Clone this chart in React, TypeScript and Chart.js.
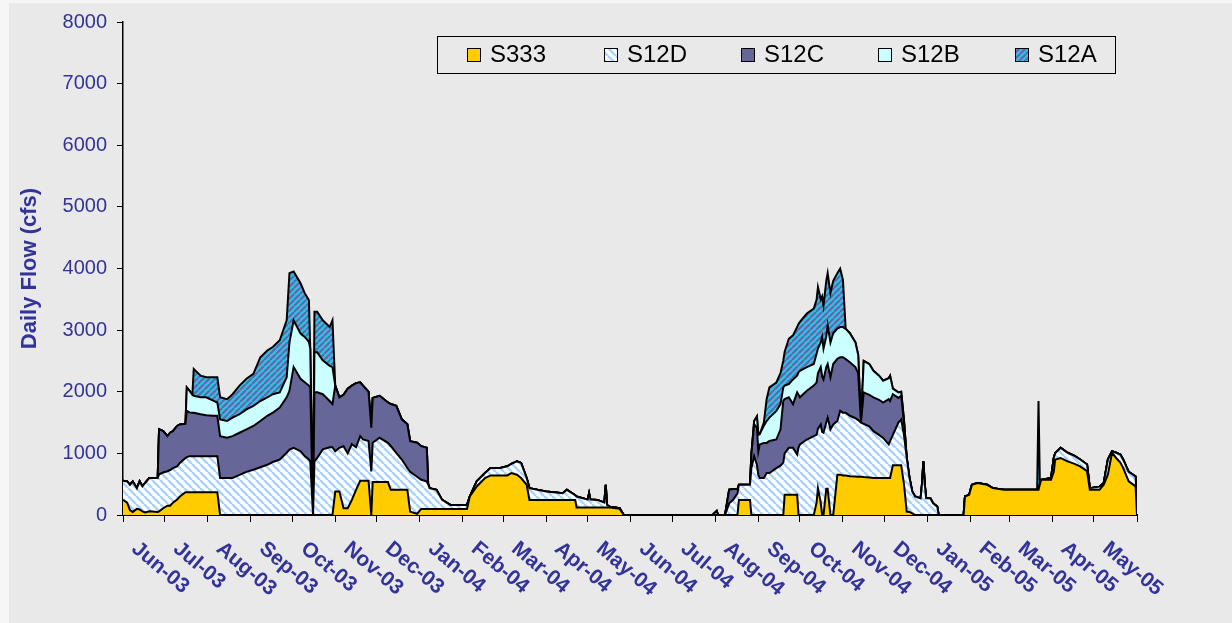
import React, { useEffect, useRef } from "react";
import { Chart, registerables } from "chart.js";

Chart.register(...registerables);

// day offsets from 1 Jun 2003
const days = [
  0, 3, 5, 7, 10, 12, 14, 16, 19, 25,
  26, 29, 32, 34, 36, 39, 41, 45, 46, 48,
  50, 51, 56, 60, 65, 68, 70, 75, 79, 84,
  89, 94, 99, 104, 108, 113, 118, 120, 123, 128,
  131, 134, 135, 137, 138, 140, 144, 149, 151, 153,
  156, 159, 162, 165, 168, 171, 173, 177, 179, 180,
  185, 191, 193, 197, 201, 205, 207, 212, 215, 219,
  220, 221, 226, 230, 236, 248, 250, 255, 261, 265,
  272, 277, 280, 284, 287, 291, 293, 305, 317, 320,
  326, 327, 335, 336, 337, 342, 347, 348, 349, 351,
  358, 361, 425, 428, 429, 434, 437, 440, 443, 444,
  452, 453, 455, 457, 458, 459, 462, 464, 466, 471,
  474, 476, 477, 480, 483, 486, 487, 488, 493, 498,
  500, 501, 503, 504, 505, 507, 508, 510, 512, 515,
  517, 519, 521, 524, 528, 530, 532, 534, 538, 541,
  545, 548, 552, 553, 555, 559, 561, 563, 565, 567,
  569, 571, 575, 576, 577, 578, 579, 582, 584, 587,
  588, 606, 607, 610, 612, 616, 623, 627, 635, 659,
  660, 661, 662, 669, 671, 672, 676, 681, 686, 690,
  695, 697, 704, 707, 710, 713, 716, 719, 721, 725,
  730, 731,
];

const s333 = [
  245, 200, 80, 50, 100, 90, 60, 40, 60, 50,
  60, 110, 150, 150, 200, 250, 300, 370, 370, 370,
  370, 370, 370, 370, 370, 370, 0, 0, 0, 0,
  0, 0, 0, 0, 0, 0, 0, 0, 0, 0,
  0, 0, 0, 0, 0, 0, 0, 0, 0, 381,
  381, 109, 109, 245, 409, 556, 556, 556, 0, 534,
  534, 534, 409, 409, 409, 409, 55, 20, 98, 98,
  98, 98, 98, 98, 98, 98, 300, 463, 600, 643,
  643, 643, 681, 654, 600, 490, 245, 245, 245, 245,
  245, 120, 120, 120, 120, 120, 120, 120, 120, 120,
  100, 0, 0, 0, 0, 0, 0, 0, 0, 245,
  245, 0, 0, 0, 0, 0, 0, 0, 0, 0,
  0, 0, 330, 330, 330, 330, 0, 0, 0, 0,
  200, 435, 200, 0, 0, 425, 425, 0, 0, 655,
  655, 640, 640, 630, 625, 620, 620, 615, 610, 600,
  600, 600, 600, 600, 807, 807, 807, 500, 55, 50,
  27, 0, 0, 0, 0, 0, 0, 0, 0, 0,
  0, 0, 300, 327, 490, 520, 490, 436, 410, 410,
  410, 500, 570, 570, 700, 900, 925, 870, 830, 790,
  710, 410, 410, 490, 655, 1010, 925, 850, 765, 545,
  465, 0,
];

const s12d = [
  310, 345, 410, 495, 335, 455, 405, 480, 540, 550,
  600, 580, 560, 580, 560, 540, 545, 555, 570, 585,
  585, 585, 585, 585, 585, 585, 600, 600, 600, 650,
  700, 735, 775, 815, 860, 900, 1010, 1060, 1090, 1035,
  955, 900, 870, 0, 870, 925, 1065, 1100, 1100, 654,
  709, 1008, 891, 905, 691, 724, 670, 644, 708, 638,
  719, 638, 711, 599, 491, 354, 645, 600, 474, 447,
  402, 338, 311, 147, 66, 66, 0, 82, 81, 120,
  120, 147, 149, 218, 245, 110, 191, 136, 109, 164,
  75, 180, 130, 234, 130, 125, 80, 370, 40, 16,
  9, 0, 0, 65, 0, 0, 190, 250, 350, 245,
  245, 760, 955, 815, 650, 600, 600, 680, 680, 760,
  800, 850, 670, 760, 760, 650, 1100, 1145, 1225, 1280,
  1100, 965, 1270, 1350, 1335, 1075, 1155, 1390, 1470, 870,
  1035, 1020, 1020, 980, 945, 920, 880, 865, 830, 760,
  700, 650, 545, 600, 493, 693, 743, 800, 870, 550,
  353, 300, 270, 500, 870, 500, 270, 270, 190, 136,
  0, 0, 0, 0, 0, 0, 0, 0, 0, 0,
  0, 0, 0, 30, 225, 100, 165, 140, 130, 110,
  110, 25, 50, 30, 245, 25, 85, 130, 135, 155,
  160, 0,
];

const s12c = [
  0, 0, 0, 0, 0, 0, 0, 0, 0, 0,
  730, 670, 570, 605, 600, 655, 625, 555, 750, 710,
  705, 705, 680, 665, 655, 655, 680, 655, 680, 685,
  690, 710, 750, 795, 800, 845, 900, 955, 1310, 1175,
  1200, 1200, 1200, 0, 1120, 1065, 895, 750, 700, 1065,
  818, 833, 1050, 950, 1040, 873, 874, 800, 709, 728,
  682, 654, 680, 763, 653, 708, 499, 552, 545, 545,
  0, 0, 0, 0, 0, 0, 0, 0, 0, 0,
  0, 0, 0, 0, 0, 0, 0, 0, 0, 0,
  0, 0, 0, 0, 0, 0, 0, 0, 0, 0,
  0, 0, 0, 0, 0, 0, 220, 170, 70, 0,
  0, 220, 515, 605, 380, 545, 570, 490, 520, 465,
  590, 1000, 880, 820, 710, 1010, 850, 765, 790, 820,
  850, 900, 930, 900, 865, 900, 870, 845, 980, 1010,
  870, 900, 870, 870, 830, 760, 0, 510, 510, 550,
  570, 575, 735, 650, 660, 400, 390, 200, 0, 0,
  0, 0, 0, 0, 0, 0, 0, 0, 0, 0,
  0, 0, 0, 0, 0, 0, 0, 0, 0, 0,
  0, 0, 0, 0, 0, 0, 0, 0, 0, 0,
  0, 0, 0, 0, 0, 0, 0, 0, 0, 0,
  0, 0,
];

const s12b = [
  0, 0, 0, 0, 0, 0, 0, 0, 0, 0,
  0, 0, 0, 0, 0, 0, 0, 0, 380, 350,
  290, 275, 275, 290, 245, 215, 270, 270, 300, 300,
  325, 325, 325, 300, 300, 245, 325, 785, 760, 735,
  735, 710, 630, 0, 650, 650, 550, 570, 600, 0,
  0, 0, 0, 0, 0, 0, 0, 0, 0, 0,
  0, 0, 0, 0, 0, 0, 0, 0, 0, 0,
  0, 0, 0, 0, 0, 0, 0, 0, 0, 0,
  0, 0, 0, 0, 0, 0, 0, 0, 0, 0,
  0, 0, 0, 0, 0, 0, 0, 0, 0, 0,
  0, 0, 0, 0, 0, 0, 0, 0, 0, 0,
  0, 0, 55, 180, 270, 165, 280, 355, 380, 465,
  410, 220, 220, 215, 400, 270, 365, 430, 385, 350,
  465, 400, 400, 640, 500, 500, 630, 565, 500, 490,
  490, 490, 490, 470, 400, 300, 0, 510, 500, 430,
  390, 355, 340, 410, 90, 90, 60, 50, 0, 0,
  0, 0, 0, 0, 0, 0, 0, 0, 0, 0,
  0, 0, 0, 0, 0, 0, 0, 0, 0, 0,
  0, 0, 0, 0, 0, 0, 0, 0, 0, 0,
  0, 0, 0, 0, 0, 0, 0, 0, 0, 0,
  0, 0,
];

const s12a = [
  0, 0, 0, 0, 0, 0, 0, 0, 0, 0,
  0, 0, 0, 0, 0, 0, 0, 0, 0, 0,
  0, 435, 350, 325, 380, 410, 360, 355, 380, 465,
  495, 520, 710, 760, 765, 845, 925, 1125, 790, 815,
  710, 680, 0, 0, 660, 660, 650, 630, 760, 0,
  0, 0, 0, 0, 0, 0, 0, 0, 0, 0,
  0, 0, 0, 0, 0, 0, 0, 0, 0, 0,
  0, 0, 0, 0, 0, 0, 0, 0, 0, 0,
  0, 0, 0, 0, 0, 0, 0, 0, 0, 0,
  0, 0, 0, 0, 0, 0, 0, 0, 0, 0,
  0, 0, 0, 0, 0, 0, 0, 0, 0, 0,
  0, 0, 0, 0, 0, 0, 50, 355, 490, 460,
  500, 435, 550, 735, 715, 790, 785, 795, 870, 900,
  875, 1000, 700, 660, 700, 900, 845, 800, 850, 900,
  950, 765, 0, 0, 0, 0, 0, 0, 0, 0,
  0, 0, 0, 0, 0, 0, 0, 0, 0, 0,
  0, 0, 0, 0, 0, 0, 0, 0, 0, 0,
  0, 0, 0, 0, 0, 0, 0, 0, 0, 0,
  1440, 0, 0, 0, 0, 0, 0, 0, 0, 0,
  0, 0, 0, 0, 0, 0, 0, 0, 0, 0,
  0, 0,
];

// first day of each month, as offsets from 1 Jun 2003
const monthStarts = [0, 30, 61, 92, 122, 153, 183, 214, 245, 274, 305, 335, 366, 396, 427, 458, 488, 519, 549, 580, 611, 639, 670, 700, 731];
const monthLabels = [
  "Jun-03", "Jul-03", "Aug-03", "Sep-03", "Oct-03", "Nov-03", "Dec-03", "Jan-04", "Feb-04", "Mar-04", "Apr-04", "May-04",
  "Jun-04", "Jul-04", "Aug-04", "Sep-04", "Oct-04", "Nov-04", "Dec-04", "Jan-05", "Feb-05", "Mar-05", "Apr-05", "May-05",
];
const yTicks = [0, 1000, 2000, 3000, 4000, 5000, 6000, 7000, 8000];

const FONT = '"Liberation Sans", Arial, sans-serif';
const BLUE_TEXT = "#333399";

function stripes(bg: string, fg: string, size: number, lw: number, rising: boolean) {
  const c = document.createElement("canvas");
  c.width = size;
  c.height = size;
  const g = c.getContext("2d")!;
  g.fillStyle = bg;
  g.fillRect(0, 0, size, size);
  g.strokeStyle = fg;
  g.lineWidth = lw;
  g.beginPath();
  for (const o of [-size, 0, size]) {
    if (rising) {
      g.moveTo(o, size);
      g.lineTo(o + size, 0);
    } else {
      g.moveTo(o, 0);
      g.lineTo(o + size, size);
    }
  }
  g.stroke();
  return g.createPattern(c, "repeat")!;
}

const backdrop = {
  id: "backdrop",
  beforeDraw(chart: any) {
    const { ctx, width, height } = chart;
    ctx.save();
    ctx.fillStyle = "#f6f6f6";
    ctx.fillRect(0, 0, width, height);
    ctx.fillStyle = "#e9e9e9";
    ctx.fillRect(9, 3, width - 9, height - 3);
    ctx.restore();
  },
};

const monthText = {
  id: "monthText",
  afterDraw(chart: any) {
    const { ctx } = chart;
    const xs = chart.scales.x;
    ctx.save();
    ctx.fillStyle = BLUE_TEXT;
    ctx.font = `bold 21px ${FONT}`;
    ctx.textAlign = "left";
    ctx.textBaseline = "top";
    monthLabels.forEach((lab, i) => {
      const px = xs.getPixelForValue(monthStarts[i]);
      ctx.save();
      ctx.translate(px + 18, xs.top + 23);
      ctx.rotate((40 * Math.PI) / 180);
      ctx.fillText(lab, 0, 0);
      ctx.restore();
    });
    ctx.restore();
  },
};

const boxLegend = {
  id: "boxLegend",
  afterDraw(chart: any) {
    const { ctx } = chart;
    const sets = chart.data.datasets;
    ctx.save();
    ctx.fillStyle = "#e9e9e9";
    ctx.fillRect(437.5, 36.5, 678, 37);
    ctx.strokeStyle = "#000";
    ctx.lineWidth = 1;
    ctx.strokeRect(437.5, 36.5, 678, 37);
    ctx.font = `24px ${FONT}`;
    ctx.textBaseline = "middle";
    ctx.textAlign = "left";
    sets.forEach((ds: any, i: number) => {
      const x = 467 + i * 137;
      ctx.fillStyle = ds.backgroundColor;
      ctx.fillRect(x, 48, 13, 13);
      ctx.strokeRect(x + 0.5, 48.5, 13, 13);
      ctx.fillStyle = "#000";
      ctx.fillText(ds.label, x + 23, 55);
    });
    ctx.restore();
  },
};

export default function App() {
  const canvasRef = useRef<HTMLCanvasElement | null>(null);
  const chartRef = useRef<Chart | null>(null);

  useEffect(() => {
    document.body.style.margin = "0";
    if (!canvasRef.current) return;
    if (chartRef.current) chartRef.current.destroy();

    const fills = [
      "#ffcc00",
      stripes("#ffffff", "#a9d3ff", 8, 2.5, false),
      "#666699",
      "#ccffff",
      stripes("#22c4f2", "#666699", 6, 2, true),
    ];
    const series = [
      { label: "S333", values: s333 },
      { label: "S12D", values: s12d },
      { label: "S12C", values: s12c },
      { label: "S12B", values: s12b },
      { label: "S12A", values: s12a },
    ];

    chartRef.current = new Chart(canvasRef.current, {
      type: "line",
      data: {
        datasets: series.map((s, i) => ({
          label: s.label,
          data: days.map((d, j) => ({ x: d, y: s.values[j] })),
          backgroundColor: fills[i] as any,
          borderColor: "#000",
          borderWidth: 2,
          pointRadius: 0,
          tension: 0,
          fill: i === 0 ? "origin" : "-1",
        })),
      },
      options: {
        animation: false,
        responsive: true,
        maintainAspectRatio: false,
        layout: { padding: { top: 22, right: 95, left: 0, bottom: 0 } },
        plugins: {
          legend: { display: false },
          tooltip: { enabled: false },
        },
        scales: {
          x: {
            type: "linear",
            min: 0,
            max: 731,
            afterBuildTicks: (scale: any) => {
              scale.ticks = monthStarts.map((v) => ({ value: v }));
            },
            afterFit: (scale: any) => {
              scale.height = 108;
            },
            ticks: { display: false },
            grid: { drawOnChartArea: false, drawTicks: true, tickLength: 7, color: "#000" },
            border: { color: "#000", width: 2 },
          },
          y: {
            stacked: true,
            min: 0,
            max: 8000,
            afterBuildTicks: (scale: any) => {
              scale.ticks = yTicks.map((v) => ({ value: v }));
            },
            afterFit: (scale: any) => {
              scale.width = 123;
            },
            ticks: {
              color: BLUE_TEXT,
              font: { family: FONT, size: 20 },
              padding: 10,
              callback: (v: any) => String(v),
            },
            grid: { drawOnChartArea: false, drawTicks: true, tickLength: 6, color: "#000" },
            border: { color: "#000", width: 1.5 },
            title: {
              display: true,
              text: "Daily Flow (cfs)",
              color: BLUE_TEXT,
              font: { family: FONT, size: 22, weight: "bold" },
              padding: { top: 17, bottom: 0 },
            },
          },
        },
      },
      plugins: [backdrop, monthText, boxLegend],
    });

    return () => {
      if (chartRef.current) {
        chartRef.current.destroy();
        chartRef.current = null;
      }
    };
  }, []);

  return (
    <div style={{ width: 1232, height: 623, position: "relative" }}>
      <canvas ref={canvasRef} />
    </div>
  );
}
